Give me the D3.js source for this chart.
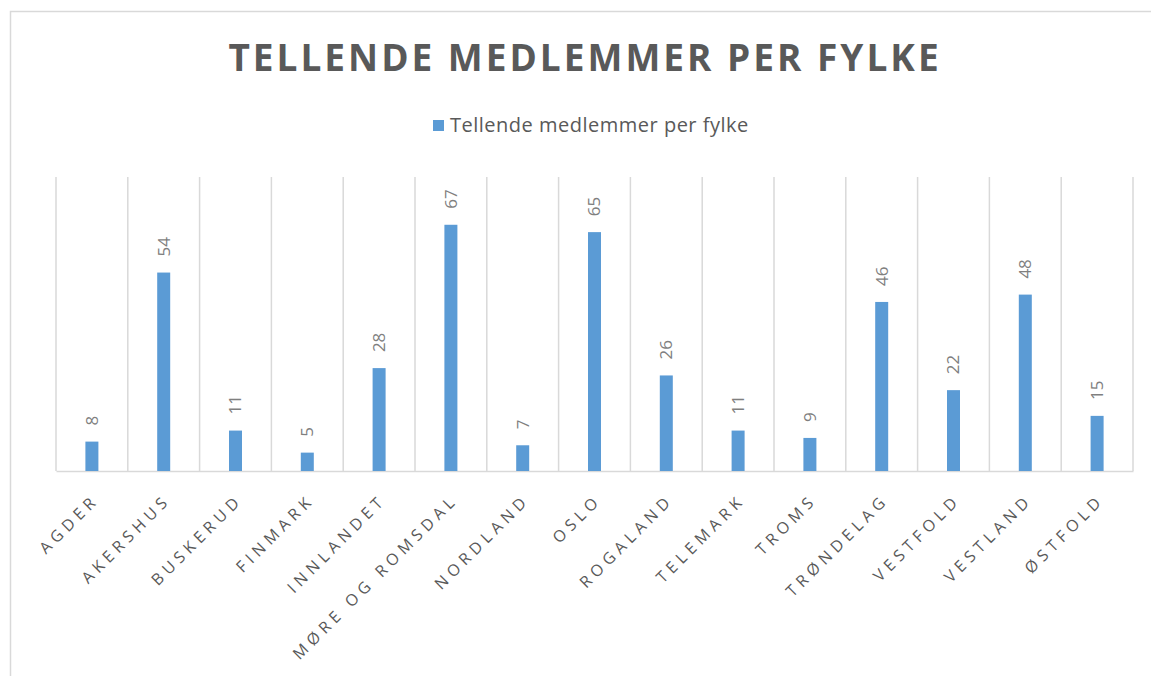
<!DOCTYPE html>
<html lang="no">
<head>
<meta charset="UTF-8">
<title>Tellende medlemmer per fylke</title>
<script src="https://d3js.org/d3.v7.min.js"></script>
<style>
    body { margin: 0; background: #fff; }
    svg { display: block; font-family: "Open Sans", sans-serif; }
</style>
</head>
<body>
<svg id="chart"></svg>
<script>
    const fylker = ["AGDER", "AKERSHUS", "BUSKERUD", "FINMARK", "INNLANDET", "MØRE OG ROMSDAL",
        "NORDLAND", "OSLO", "ROGALAND", "TELEMARK", "TROMS", "TRØNDELAG", "VESTFOLD", "VESTLAND", "ØSTFOLD"];
    const medlemmer = [8, 54, 11, 5, 28, 67, 7, 65, 26, 11, 9, 46, 22, 48, 15];
    const yMax = 80;
    const title = "TELLENDE MEDLEMMER PER FYLKE";
    const legendLabel = "Tellende medlemmer per fylke";

    const width = 1151, height = 676;
    const plot = { left: 56, right: 1133, top: 177, bottom: 471 };

    const svg = d3.select("#chart").attr("width", width).attr("height", height);

    // chart frame (runs off the right and bottom edge like the screenshot)
    svg.append("rect")
        .attr("x", 10.5).attr("y", 11.5)
        .attr("width", width + 20).attr("height", height + 20)
        .attr("fill", "none").attr("stroke", "#d9d9d9").attr("stroke-width", 1.5);

    svg.append("text")
        .attr("x", 585).attr("y", 71)
        .attr("text-anchor", "middle")
        .attr("font-size", 37).attr("font-weight", 700)
        .attr("letter-spacing", 3)
        .attr("fill", "#595959")
        .text(title);

    // legend
    const legend = svg.append("g").attr("transform", "translate(433,120)");
    legend.append("rect").attr("width", 11).attr("height", 11).attr("fill", "#5b9bd5");
    legend.append("text").attr("x", 17).attr("y", 12)
        .attr("font-size", 20).attr("letter-spacing", 0.5).attr("fill", "#595959")
        .text(legendLabel);

    const x = d3.scaleBand().domain(fylker).range([plot.left, plot.right]);
    const y = d3.scaleLinear().domain([0, yMax]).range([plot.bottom, plot.top]);

    // vertical gridlines between categories
    const edges = fylker.map(d => x(d)).concat([plot.right]);
    svg.append("g").selectAll("line").data(edges).enter().append("line")
        .attr("x1", d => d).attr("x2", d => d)
        .attr("y1", plot.top).attr("y2", plot.bottom)
        .attr("stroke", "#d9d9d9").attr("stroke-width", 1.5);

    // x axis
    const xAxis = svg.append("g")
        .attr("transform", `translate(0,${plot.bottom})`)
        .call(d3.axisBottom(x).tickSize(0).tickPadding(0));
    xAxis.select(".domain").attr("stroke", "#d9d9d9").attr("stroke-width", 1.5);
    xAxis.selectAll(".tick text")
        .attr("font-family", "Open Sans, sans-serif")
        .attr("font-size", 16)
        .attr("letter-spacing", 4.8)
        .attr("fill", "#595959")
        .attr("text-anchor", "end")
        .attr("dy", 0)
        .attr("transform", "translate(8,30) rotate(-45)");

    const barW = 13;
    const cx = d => x(d) + x.bandwidth() / 2;

    svg.append("g").selectAll("rect").data(fylker).enter().append("rect")
        .attr("x", d => cx(d) - barW / 2)
        .attr("width", barW)
        .attr("y", (d, i) => y(medlemmer[i]))
        .attr("height", (d, i) => plot.bottom - y(medlemmer[i]))
        .attr("fill", "#5b9bd5");

    // value labels, rotated
    svg.append("g").selectAll("text").data(fylker).enter().append("text")
        .attr("transform", (d, i) => `translate(${cx(d)},${y(medlemmer[i]) - 16}) rotate(-90)`)
        .attr("dy", "0.35em")
        .attr("font-size", 17)
        .attr("fill", "#7f7f7f")
        .text((d, i) => medlemmer[i]);
</script>
</body>
</html>
